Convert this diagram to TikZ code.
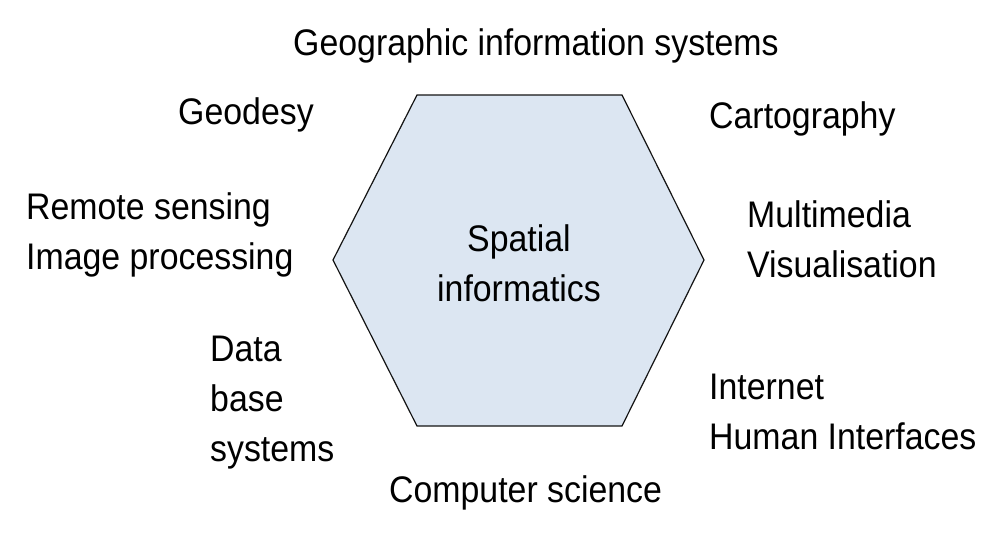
\documentclass[tikz,border=0pt]{standalone}
\usepackage{fontspec}
\setmainfont{Liberation Sans}[FakeStretch=0.915]
\definecolor{hexfill}{RGB}{220,230,242}
\definecolor{hexline}{RGB}{20,20,20}
\begin{document}
\begin{tikzpicture}[x=1pt,y=-1pt,
  label/.style={inner sep=0pt,anchor=base west,align=left,
    font=\fontsize{37}{50}\selectfont},
  centre/.style={inner sep=0pt,anchor=base,align=center,
    font=\fontsize{37}{50}\selectfont}]
\useasboundingbox (0,0) rectangle (1003,539);
% central hexagon
\coordinate (hl) at (333,260);
\coordinate (htl) at (417,95);
\coordinate (htr) at (622,95);
\coordinate (hr) at (704,260);
\coordinate (hbr) at (622,426);
\coordinate (hbl) at (417,426);
\draw[fill=hexfill,draw=hexline,line width=1.2pt]
  (hl) -- (htl) -- (htr) -- (hr) -- (hbr) -- (hbl) -- cycle;
% multi-line nodes sit on the baseline of their last line
\node[centre] (core) at (519,301) {Spatial\\informatics};
% surrounding disciplines
\node[label] (gis) at (293,55) {Geographic information systems};
\node[label] (geod) at (178,124) {Geodesy};
\node[label] (carto) at (709,128) {Cartography};
\node[label] (rs) at (26,269) {Remote sensing\\Image processing};
\node[label] (mm) at (747,277) {Multimedia\\Visualisation};
\node[label] (db) at (210,461) {Data\\base\\systems};
\node[label] (net) at (709,449) {Internet\\Human Interfaces};
\node[label] (cs) at (389,502) {Computer science};
\end{tikzpicture}
\end{document}
